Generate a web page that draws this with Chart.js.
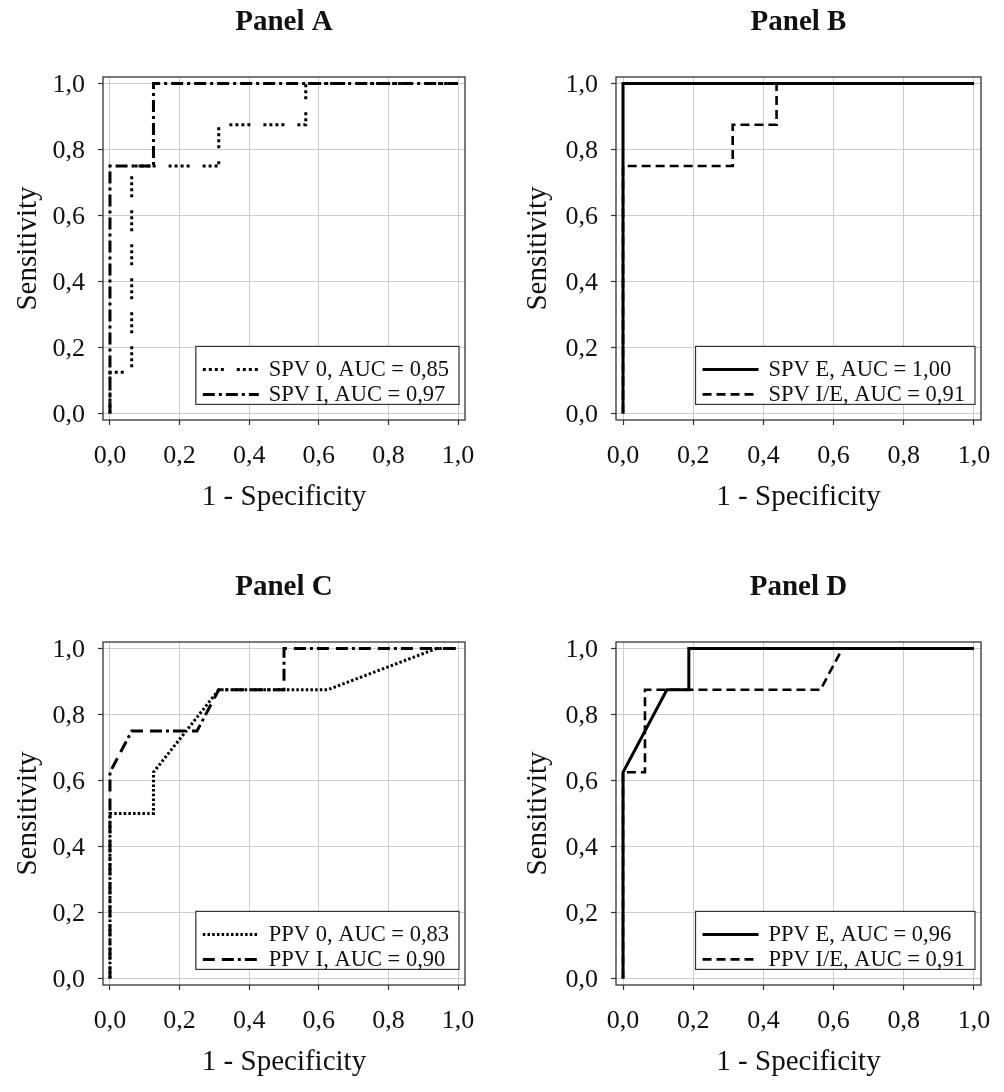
<!DOCTYPE html>
<html>
<head>
<meta charset="utf-8">
<script src="https://cdn.jsdelivr.net/npm/chart.js@4.4.1/dist/chart.umd.min.js"></script>
<style>
  html, body { margin: 0; padding: 0; background: #ffffff; overflow: hidden; }
  body { width: 1004px; height: 1092px; position: relative; }
  canvas { position: absolute; }
</style>
</head>
<body>
<canvas id="cA" width="502" height="527" style="left:0px;top:0px"></canvas>
<canvas id="cB" width="502" height="527" style="left:502px;top:0px"></canvas>
<canvas id="cC" width="502" height="527" style="left:0px;top:565px"></canvas>
<canvas id="cD" width="502" height="527" style="left:502px;top:565px"></canvas>
<script>
// ---------- data ----------
const tickValues = [0, 0.2, 0.4, 0.6, 0.8, 1.0];
const tickLabels = ['0,0', '0,2', '0,4', '0,6', '0,8', '1,0'];
const panelTitles = ['Panel A', 'Panel B', 'Panel C', 'Panel D'];
const xAxisTitle = '1 - Specificity';
const yAxisTitle = 'Sensitivity';

// Panel A
const spv0Fpr = [0, 0, 0.0625, 0.0625, 0.3125, 0.3125, 0.5625, 0.5625, 1];
const spv0Tpr = [0, 0.125, 0.125, 0.75, 0.75, 0.875, 0.875, 1, 1];
const spvIFpr = [0, 0, 0.125, 0.125, 1];
const spvITpr = [0, 0.75, 0.75, 1, 1];
const legendA = ['SPV 0, AUC = 0,85', 'SPV I, AUC = 0,97'];

// Panel B
const spvEFpr = [0, 0, 1];
const spvETpr = [0, 1, 1];
const spvIEFpr = [0, 0, 0.3125, 0.3125, 0.4375, 0.4375, 1];
const spvIETpr = [0, 0.75, 0.75, 0.875, 0.875, 1, 1];
const legendB = ['SPV E, AUC = 1,00', 'SPV I/E, AUC = 0,91'];

// Panel C
const ppv0Fpr = [0, 0, 0.125, 0.125, 0.3125, 0.625, 0.9375, 1];
const ppv0Tpr = [0, 0.5, 0.5, 0.625, 0.875, 0.875, 1, 1];
const ppvIFpr = [0, 0, 0.0625, 0.25, 0.3125, 0.5, 0.5, 1];
const ppvITpr = [0, 0.625, 0.75, 0.75, 0.875, 0.875, 1, 1];
const legendC = ['PPV 0, AUC = 0,83', 'PPV I, AUC = 0,90'];

// Panel D
const ppvEFpr = [0, 0, 0.125, 0.1875, 0.1875, 1];
const ppvETpr = [0, 0.625, 0.875, 0.875, 1, 1];
const ppvIEFpr = [0, 0, 0.0625, 0.0625, 0.5625, 0.625, 1];
const ppvIETpr = [0, 0.625, 0.625, 0.875, 0.875, 1, 1];
const legendD = ['PPV E, AUC = 0,96', 'PPV I/E, AUC = 0,91'];

// ---------- styling ----------
const FONT = '"Liberation Serif", "Times New Roman", Times, serif';
Chart.defaults.font.family = FONT;
Chart.defaults.color = '#111';

const STYLE = {
  solid:   { borderDash: [], borderWidth: 3 },
  dashed:  { borderDash: [9, 5], borderWidth: 2.6 },
  dotGrp:  { borderDash: [3, 3, 3, 3, 3, 3, 3, 13], borderWidth: 3 },
  dotted:  { borderDash: [2.5, 2.2], borderWidth: 3 },
  dashDot: { borderDash: [12, 4, 3, 4], borderWidth: 3 },
  dashDot2:{ borderDash: [12, 7, 12, 4, 3, 4], borderWidth: 3 }
};

function pts(xs, ys) { return xs.map((x, i) => ({ x: x, y: ys[i] })); }

const framePlugin = {
  id: 'frame',
  beforeDatasetsDraw(chart) {
    const a = chart.chartArea, ctx = chart.ctx;
    ctx.save();
    ctx.strokeStyle = '#333';
    ctx.lineWidth = 1.3;
    ctx.strokeRect(a.left, a.top, a.right - a.left, a.bottom - a.top);
    ctx.restore();
  }
};

const boxLegendPlugin = {
  id: 'boxLegend',
  afterDatasetsDraw(chart) {
    const ctx = chart.ctx;
    const xs = chart.scales.x, ys = chart.scales.y;
    const ds = chart.data.datasets;
    ctx.save();
    ctx.font = '22.5px ' + FONT;
    let maxW = 0;
    ds.forEach(d => { maxW = Math.max(maxW, ctx.measureText(d.label).width); });
    const padL = 7, lineLen = 56, gap = 10, padR = 10;
    const w = padL + lineLen + gap + maxW + padR;
    const h = 58;
    const right = xs.getPixelForValue(1) + 1;
    const bottom = ys.getPixelForValue(0) - 9;
    const left = right - w, top = bottom - h;
    ctx.fillStyle = '#fff';
    ctx.fillRect(left, top, w, h);
    ctx.strokeStyle = '#333';
    ctx.lineWidth = 1.2;
    ctx.strokeRect(left, top, w, h);
    ds.forEach((d, i) => {
      const cy = top + 23 + i * 25;
      ctx.beginPath();
      ctx.setLineDash(d.borderDash || []);
      ctx.lineWidth = d.borderWidth;
      ctx.strokeStyle = '#000';
      ctx.lineCap = 'butt';
      ctx.moveTo(left + padL, cy);
      ctx.lineTo(left + padL + lineLen, cy);
      ctx.stroke();
      ctx.setLineDash([]);
      ctx.fillStyle = '#111';
      ctx.textBaseline = 'middle';
      ctx.textAlign = 'left';
      ctx.fillText(d.label, left + padL + lineLen + gap, cy + 1);
    });
    ctx.restore();
  }
};

function makePanel(id, title, series, geom) {
  const W = geom.width, H = 527;
  const cv = document.getElementById(id);
  cv.width = W; cv.height = H;
  const datasets = series.map(s => Object.assign({
    label: s.label,
    data: pts(s.xs, s.ys),
    borderColor: '#000',
    backgroundColor: '#000',
    pointRadius: 0,
    pointHoverRadius: 0,
    tension: 0,
    fill: false,
    borderCapStyle: 'butt',
    borderJoinStyle: 'miter',
    clip: false
  }, STYLE[s.style]));

  const baseTicks = {
    font: { size: 26, family: FONT },
    color: '#111',
    padding: 13,
    autoSkip: false,
    maxRotation: 0,
    minRotation: 0,
    callback: (v, i) => tickLabels[i]
  };
  const xTicks = Object.assign({}, baseTicks, { padding: 16 });
  const yTicks = Object.assign({}, baseTicks, { labelOffset: 2 });
  const gridCfg = { color: '#cdcdcd', lineWidth: 1, drawTicks: true, tickLength: 5, tickColor: '#333', tickWidth: 1.2 };
  const setTicks = s => { s.ticks = tickValues.map(v => ({ value: v })); };

  new Chart(cv, {
    type: 'line',
    data: { datasets: datasets },
    plugins: [framePlugin, boxLegendPlugin],
    options: {
      responsive: false,
      animation: false,
      devicePixelRatio: 1,
      layout: { padding: { left: 0, top: 0, right: W - geom.right, bottom: H - 514.4 } },
      plugins: {
        legend: { display: false },
        tooltip: { enabled: false },
        title: {
          display: true,
          text: title,
          fullSize: false,
          font: { size: 29, weight: 'bold', family: FONT, lineHeight: 1.2 },
          color: '#111',
          padding: { top: 5.6, bottom: 36.6 }
        }
      },
      scales: {
        x: {
          type: 'linear',
          min: -0.02, max: 1.02,
          afterBuildTicks: setTicks,
          afterFit: s => { s.height = 94.4; },
          ticks: xTicks,
          grid: gridCfg,
          border: { display: false },
          title: { display: true, text: xAxisTitle, font: { size: 29, family: FONT, lineHeight: 1.2 }, color: '#111', padding: { top: 0, bottom: 0 } }
        },
        y: {
          type: 'linear',
          min: -0.02, max: 1.02,
          afterBuildTicks: setTicks,
          afterFit: s => { s.width = geom.left; },
          ticks: yTicks,
          grid: gridCfg,
          border: { display: false },
          title: { display: true, text: yAxisTitle, font: { size: 29, family: FONT, lineHeight: 1.2 }, color: '#111', padding: { top: geom.yTitle - 17.4, bottom: 0 } }
        }
      }
    }
  });
}

const geomLeft = { width: 502, left: 103, right: 465, yTitle: 28 };
const geomRight = { width: 520, left: 114, right: 479, yTitle: 36 };

makePanel('cA', panelTitles[0], [
  { label: legendA[0], xs: spv0Fpr, ys: spv0Tpr, style: 'dotGrp' },
  { label: legendA[1], xs: spvIFpr, ys: spvITpr, style: 'dashDot' }
], geomLeft);

makePanel('cB', panelTitles[1], [
  { label: legendB[0], xs: spvEFpr, ys: spvETpr, style: 'solid' },
  { label: legendB[1], xs: spvIEFpr, ys: spvIETpr, style: 'dashed' }
], geomRight);

makePanel('cC', panelTitles[2], [
  { label: legendC[0], xs: ppv0Fpr, ys: ppv0Tpr, style: 'dotted' },
  { label: legendC[1], xs: ppvIFpr, ys: ppvITpr, style: 'dashDot2' }
], geomLeft);

makePanel('cD', panelTitles[3], [
  { label: legendD[0], xs: ppvEFpr, ys: ppvETpr, style: 'solid' },
  { label: legendD[1], xs: ppvIEFpr, ys: ppvIETpr, style: 'dashed' }
], geomRight);
</script>
</body>
</html>
